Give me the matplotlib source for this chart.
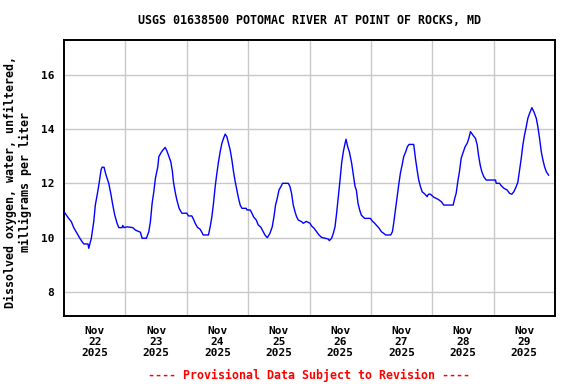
import matplotlib
matplotlib.use("Agg")
import matplotlib.pyplot as plt
from datetime import datetime, timedelta

# Hours since 2025-11-22 00:00 and dissolved oxygen (mg/L)
hours = [0.27, 1.84, 2.86, 3.80, 5.09, 6.38, 7.71, 9.40, 9.67, 10.69, 11.63, 12.25, 13.19, 13.82,
         14.49, 14.88, 15.66, 16.44, 17.50, 18.40, 19.07, 19.85, 20.75, 21.42, 22.71, 22.98, 23.49,
         24.66, 26.90, 27.91, 29.87, 30.54, 32.22, 33.16, 33.79, 34.45, 35.12, 35.74, 36.68, 37.08,
         37.98, 38.64, 39.54, 40.21, 40.83, 41.77, 42.40, 42.79, 43.46, 44.12, 45.02, 46.08, 48.04,
         48.66, 49.99, 50.62, 51.29, 52.19, 53.24, 54.14, 54.42, 56.49, 57.16, 57.82, 58.45, 59.12,
         59.78, 60.41, 61.07, 61.74, 62.37, 63.03, 63.70, 64.32, 64.99, 65.65, 66.28, 66.95, 67.61,
         68.24, 68.90, 69.57, 71.25, 71.53, 72.82, 73.49, 74.11, 75.17, 75.95, 77.01, 77.91, 78.58,
         79.48, 80.53, 81.43, 82.10, 82.72, 83.39, 84.06, 84.84, 85.47, 87.70, 88.36, 88.99, 89.65,
         90.32, 90.95, 91.61, 92.90, 93.57, 94.74, 96.19, 96.82, 97.76, 98.78, 99.72, 100.73, 102.06,
         103.36, 103.75, 104.65, 105.31, 105.98, 106.60, 107.27, 107.94, 108.56, 109.23, 109.90,
         110.29, 110.91, 111.58, 112.48, 113.14, 113.81, 114.32, 114.98, 115.61, 116.27, 117.57,
         119.80, 120.58, 121.48, 122.42, 123.21, 124.11, 125.01, 125.79, 127.75, 128.42, 128.92,
         129.59, 130.25, 130.88, 131.54, 132.21, 132.84, 133.62, 134.29, 134.95, 136.75, 137.42,
         138.08, 138.71, 139.38, 140.04, 141.06, 142.00, 142.51, 143.29, 144.58, 146.31, 147.60,
         148.50, 152.18, 152.80, 153.35, 153.98, 154.64, 155.31, 155.94, 156.88, 157.66, 158.29,
         158.95, 159.85, 160.91, 161.58, 162.08, 162.75, 163.37, 164.16, 165.10, 168.74, 169.01,
         170.30, 170.97, 171.99, 173.32, 174.22, 175.12, 175.90, 176.84, 177.47, 178.13, 178.80,
         179.43, 180.09, 180.76, 181.38, 182.05, 182.95, 183.74, 184.68, 185.30, 185.97, 186.63,
         187.27, 187.92, 188.59, 189.48]
do_mgl = [10.92, 10.71, 10.59, 10.37, 10.16, 9.95, 9.77, 9.77, 9.61, 9.98, 10.59, 11.20, 11.69, 12.06,
          12.49, 12.59, 12.59, 12.30, 12.00, 11.57, 11.20, 10.83, 10.53, 10.37, 10.37, 10.45, 10.37,
          10.40, 10.37, 10.28, 10.20, 9.98, 9.98, 10.22, 10.59, 11.26, 11.69, 12.18, 12.61, 12.98,
          13.13, 13.22, 13.32, 13.20, 13.04, 12.79, 12.43, 12.06, 11.69, 11.39, 11.08, 10.90, 10.90,
          10.80, 10.80, 10.68, 10.53, 10.38, 10.31, 10.16, 10.10, 10.10, 10.40, 10.77, 11.26, 11.88,
          12.37, 12.79, 13.16, 13.47, 13.65, 13.81, 13.71, 13.47, 13.22, 12.86, 12.43, 12.06, 11.75,
          11.45, 11.20, 11.08, 11.08, 11.02, 11.02, 10.90, 10.77, 10.65, 10.47, 10.38, 10.22, 10.10,
          10.00, 10.16, 10.40, 10.77, 11.20, 11.45, 11.75, 11.88, 12.00, 12.00, 11.88, 11.63, 11.20,
          10.96, 10.77, 10.65, 10.59, 10.53, 10.60, 10.53, 10.43, 10.35, 10.22, 10.10, 10.01, 9.98,
          9.95, 9.89, 9.98, 10.16, 10.40, 10.90, 11.51, 12.12, 12.74, 13.16, 13.47,
          13.62, 13.35, 13.16, 12.74, 12.30, 11.88, 11.75, 11.26, 11.02, 10.83, 10.71,
          10.71, 10.61, 10.53, 10.43, 10.35, 10.22, 10.16, 10.10, 10.10, 10.22, 10.53,
          11.02, 11.51, 11.94, 12.37, 12.67, 12.98, 13.16, 13.35, 13.43, 13.43, 12.92,
          12.49, 12.12, 11.88, 11.69, 11.61, 11.51, 11.60, 11.60, 11.49, 11.41, 11.32,
          11.20, 11.20, 11.45, 11.63, 12.06, 12.43, 12.92, 13.10, 13.35, 13.47, 13.65,
          13.90, 13.78, 13.65, 13.41, 13.04, 12.67, 12.43, 12.24, 12.12, 12.12, 12.00,
          12.00, 11.91, 11.82, 11.75, 11.63, 11.60, 11.69, 11.88, 12.04, 12.49, 12.92,
          13.41, 13.78, 14.08, 14.39, 14.57, 14.78, 14.63, 14.39, 14.08, 13.65, 13.16,
          12.86, 12.61, 12.43, 12.30]

y_ticks = [8, 10, 12, 14, 16]
x_tick_labels = ["Nov\n22\n2025", "Nov\n23\n2025", "Nov\n24\n2025", "Nov\n25\n2025",
                 "Nov\n26\n2025", "Nov\n27\n2025", "Nov\n28\n2025", "Nov\n29\n2025"]

title = "USGS 01638500 POTOMAC RIVER AT POINT OF ROCKS, MD"
ylabel = "Dissolved oxygen, water, unfiltered,\nmilligrams per liter"
footer = "---- Provisional Data Subject to Revision ----"

plt.rcParams["font.family"] = ["DejaVu Sans Mono"]
plt.rcParams["font.weight"] = "bold"

start = datetime(2025, 11, 22)
times = [start + timedelta(hours=h) for h in hours]

fig = plt.figure(figsize=(5.76, 3.84), dpi=100)
W, H = 576, 384
ax = fig.add_axes([64 / W, 1 - 316 / H, (555 - 64) / W, (316 - 40) / H])

ax.plot(times, do_mgl, color="#0000ff", lw=1.0, zorder=3)

ax.set_xlim(start, start + timedelta(days=8))
ax.set_ylim(7.12, 17.27)

ax.set_yticks(y_ticks)
ax.set_yticklabels([str(v) for v in y_ticks], fontsize=8, fontweight="bold")

major = [start + timedelta(days=d) for d in range(1, 8)]
minor = [start + timedelta(days=d, hours=12) for d in range(8)]
ax.set_xticks(major)
ax.set_xticklabels([""] * len(major))
ax.set_xticks(minor, minor=True)
ax.set_xticklabels(x_tick_labels, minor=True, fontsize=8, fontweight="bold", linespacing=1.15)

ax.tick_params(which="both", length=0)
ax.tick_params(axis="x", which="minor", pad=7)
ax.tick_params(axis="y", pad=7)
ax.grid(True, which="major", color="#c8c8c8", lw=1.0, zorder=0)

for s in ax.spines.values():
    s.set_color("black")
    s.set_linewidth(1.4)

fig.text(309 / W, 1 - 20 / H, title, ha="center", va="center", fontsize=8.4, fontweight="bold")
fig.text(18 / W, 1 - 182 / H, ylabel, ha="center", va="center", rotation=90,
         fontsize=8.4, fontweight="bold", multialignment="center", linespacing=1.1)
fig.text(309 / W, 1 - 375 / H, footer, ha="center", va="center", fontsize=8.4,
         fontweight="bold", color="#ff0000")

fig.savefig("out.png", dpi=100)
